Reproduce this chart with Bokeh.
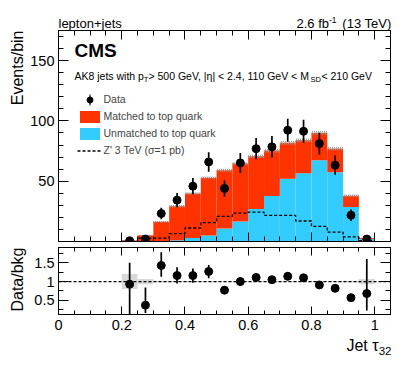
import numpy as np
from bokeh.plotting import figure
from bokeh.models import (Range1d, FixedTicker, LinearAxis, Label, Legend, LegendItem, Span)
from bokeh.layouts import column, row
from bokeh.embed import file_html
from bokeh.resources import INLINE

# ---------------- data ----------------
bin_lo = [0.20, 0.25, 0.30, 0.35, 0.40, 0.45, 0.50, 0.55, 0.60, 0.65, 0.70, 0.75, 0.80, 0.85, 0.90, 0.95]
bin_hi = [0.25, 0.30, 0.35, 0.40, 0.45, 0.50, 0.55, 0.60, 0.65, 0.70, 0.75, 0.80, 0.85, 0.90, 0.95, 1.00]
bin_mid = [0.225, 0.275, 0.325, 0.375, 0.425, 0.475, 0.525, 0.575, 0.625, 0.675, 0.725, 0.775, 0.825, 0.875, 0.925, 0.975]

unmatched = [0.0, 0.3, 0.5, 1.0, 3.0, 5.0, 10.8, 16.6, 27.0, 37.8, 52.0, 56.6, 67.4, 57.5, 28.7, 2.0]
matched = [0.8, 4.9, 15.8, 28.3, 36.8, 47.8, 48.3, 48.0, 43.7, 37.6, 29.8, 27.4, 22.6, 19.5, 9.3, 0.8]
bkg_unc = [0.3, 0.5, 0.8, 1.0, 1.1, 1.2, 1.3, 1.4, 1.4, 1.5, 1.6, 1.6, 1.7, 1.5, 1.1, 0.3]
zprime = [0.0, 2.8, 2.8, 6.6, 11.2, 15.7, 20.8, 23.5, 24.3, 21.6, 21.6, 17.0, 12.6, 7.8, 3.8, 0.8]

data = [0.6, 2.0, 23.2, 34.3, 45.9, 66.0, 44.0, 65.2, 77.0, 78.5, 92.3, 91.4, 81.2, 63.3, 21.8, 2.0]
data_err = [1.0, 1.4, 4.8, 5.9, 6.8, 8.1, 6.6, 8.1, 8.8, 8.9, 9.6, 9.6, 9.0, 8.0, 4.7, 1.4]

ratio = [0.93, 0.37, 1.43, 1.16, 1.16, 1.27, 0.77, 1.00, 1.11, 1.05, 1.14, 1.10, 0.91, 0.82, 0.57, 0.68]
ratio_lo = [0.10, 0.16, 1.13, 0.95, 0.97, 1.09, 0.68, 0.88, 0.99, 0.95, 1.05, 1.00, 0.84, 0.75, 0.48, 0.23]
ratio_hi = [1.50, 0.84, 1.78, 1.38, 1.35, 1.44, 0.84, 1.11, 1.22, 1.15, 1.24, 1.20, 0.99, 0.90, 0.66, 1.60]
ratio_band = [0.20, 0.07, 0.02, 0.01, 0.01, 0.01, 0.01, 0.01, 0.01, 0.01, 0.01, 0.01, 0.01, 0.01, 0.02, 0.07]
ratio_ref = 1.0

x_major = [0, 0.2, 0.4, 0.6, 0.8, 1]
x_major_labels = ["0", "0.2", "0.4", "0.6", "0.8", "1"]
x_minor = [0.05 * i for i in range(22)]
y_major = [50, 100, 150]
y_major_labels = ["50", "100", "150"]
y_minor = [10 * i for i in range(18)]
r_major = [0.5, 1.0, 1.5]
r_major_labels = ["0.5", "1", "1.5"]
r_minor = [0.25, 0.75, 1.25, 1.75]

FONT = "Liberation Sans"
RED = "#ff3300"
CYAN = "#33ccff"

# ---------------- geometry ----------------
SIDE_W = 27          # strip holding the vertical axis titles
FRAME_W = 333
BL, BR = 30, 9       # left / right borders of the main figures
MAIN_W = BL + FRAME_W + BR
HEAD_H = 30
FOOT_H = 26
TOTAL_H = 362
XR = Range1d(0, 1.05)
YR = Range1d(0, 175)
RR = Range1d(0.12, 1.91)


def bare(fig):
    fig.xgrid.visible = False
    fig.ygrid.visible = False
    fig.background_fill_color = "white"
    fig.border_fill_color = "white"


def style_axis(ax, ticker, maj, mnr, labels=None):
    ax.ticker = ticker
    ax.major_tick_in = maj
    ax.major_tick_out = 0
    ax.minor_tick_in = mnr
    ax.minor_tick_out = 0
    ax.axis_line_color = "black"
    ax.axis_line_width = 1
    ax.major_tick_line_color = "black"
    ax.minor_tick_line_color = "black"
    ax.major_tick_line_width = 1
    ax.minor_tick_line_width = 1
    ax.major_label_text_font = FONT
    ax.major_label_text_color = "black"
    if labels is not None:
        ax.major_label_text_font_size = "14.5px"
        ax.major_label_overrides = dict(zip(ticker.ticks, labels))
    else:
        ax.major_label_overrides = {t: "" for t in ticker.ticks}
        ax.major_label_text_font_size = "1px"
        ax.major_label_standoff = 0
        ax.axis_label_standoff = 0


def lab(fig, x, y, text, size, align="left", bold=False, x_offset=0, angle=0):
    fig.add_layout(Label(x=x, y=y, text=text, text_font=FONT, text_font_size=size,
                         text_align=align, text_baseline="middle",
                         text_font_style="bold" if bold else "normal",
                         text_color="black", x_offset=x_offset, angle=angle))


def text_strip(fw, fh, x_range, y_range, bl=0, br=0):
    f = figure(frame_width=fw, frame_height=fh, x_range=x_range, y_range=y_range,
               x_axis_type=None, y_axis_type=None, output_backend="svg",
               toolbar_location=None, title=None, min_border=0,
               min_border_left=bl, min_border_right=br,
               min_border_top=0, min_border_bottom=0)
    bare(f)
    f.outline_line_color = None
    return f


# ---------------- header (texts above the frame) ----------------
head = text_strip(FRAME_W, HEAD_H, XR, Range1d(0, HEAD_H), BL, BR)
lab(head, 0.0, 7.5, "lepton+jets", "13px")
lab(head, 1.05, 7.5, "(13 TeV)", "13px", align="right")
lab(head, 1.05, 10.9, "-1", "8.5px", align="right", x_offset=-55)
lab(head, 1.05, 7.5, "2.6 fb", "13px", align="right", x_offset=-62.5)

# ---------------- upper panel ----------------
p = figure(width=MAIN_W, height=214, x_range=XR, y_range=YR, output_backend="svg",
           toolbar_location=None, title=None, min_border_left=BL, min_border_right=BR,
           min_border_top=0, min_border_bottom=3)
bare(p)
p.outline_line_color = "black"

xt = FixedTicker(ticks=x_major, minor_ticks=x_minor)
yt = FixedTicker(ticks=y_major, minor_ticks=y_minor)
style_axis(p.xaxis[0], xt, 9, 5)
style_axis(p.yaxis[0], yt, 10, 5, y_major_labels)
p.yaxis[0].major_label_standoff = 4
top_ax = LinearAxis()
style_axis(top_ax, xt, 9, 5)
p.add_layout(top_ax, "above")
right_ax = LinearAxis()
style_axis(right_ax, yt, 10, 5)
p.add_layout(right_ax, "right")

lo = np.array(bin_lo)
hi = np.array(bin_hi)
um = np.array(unmatched)
mt = np.array(matched)
tot = um + mt
unc = np.array(bkg_unc)

r_cyan = p.quad(left=lo, right=hi, bottom=np.zeros_like(um), top=um,
                fill_color=CYAN, line_color=None)
r_red = p.quad(left=lo, right=hi, bottom=um, top=tot,
               fill_color=RED, line_color=None)
p.quad(left=lo, right=hi, bottom=tot - unc, top=tot + unc, fill_alpha=0,
       line_color=None, hatch_pattern="/", hatch_color="#999999",
       hatch_scale=4, hatch_weight=1)

edges = list(bin_lo) + [bin_hi[-1]]
zp_y = list(zprime) + [zprime[-1]]
r_zp = p.step(x=edges, y=zp_y, mode="after", line_color="black",
              line_dash="3 2", line_width=1.3)

d = np.array(data)
de = np.array(data_err)
p.segment(x0=bin_mid, x1=bin_mid, y0=d - de, y1=d + de, line_color="black", line_width=1.7)
r_data = p.scatter(x=bin_mid, y=data, size=8, marker="circle",
                   fill_color="black", line_color="black")

# legend helper for the error-bar symbol: a thin bar sitting inside the
# longest error bar of the data, so it adds nothing visible to the plot
i_leg = int(np.argmax(de))
r_bar = p.ellipse(x=[bin_mid[i_leg]], y=[data[i_leg]], width=1.7, height=12,
                  width_units="screen", height_units="screen",
                  fill_color="black", line_color=None)

legend = Legend(items=[
    LegendItem(label="Data", renderers=[r_bar, r_data]),
    LegendItem(label="Matched to top quark", renderers=[r_red]),
    LegendItem(label="Unmatched to top quark", renderers=[r_cyan]),
    LegendItem(label="Z' 3 TeV (\u03c3=1 pb)", renderers=[r_zp]),
], location=(18.5, 83.5), padding=0, margin=0, spacing=2,
    glyph_width=25, glyph_height=15, label_height=15, label_standoff=2,
    label_text_font_size="10.5px", label_text_font=FONT,
    border_line_color=None, background_fill_alpha=0)
p.add_layout(legend)

lab(p, 0.0505, 158.3, "CMS", "19px", bold=True)
lab(p, 0.0505, 137.3, "AK8 jets with p", "10.5px")
lab(p, 0.0505, 134.4, "T", "7.5px", x_offset=69.4)
lab(p, 0.0505, 137.3, " > 500 GeV, |\u03b7| < 2.4, 110 GeV < M", "10.5px", x_offset=74.0)
lab(p, 0.0505, 134.4, "SD", "7.5px", x_offset=236.0)
lab(p, 0.0505, 137.3, " < 210 GeV", "10.5px", x_offset=247.0)

# ---------------- ratio panel ----------------
q = figure(width=MAIN_W, height=92, x_range=XR, y_range=RR, output_backend="svg",
           toolbar_location=None, title=None, min_border_left=BL, min_border_right=BR,
           min_border_top=3, min_border_bottom=22)
bare(q)
q.outline_line_color = "black"

rt = FixedTicker(ticks=r_major, minor_ticks=r_minor)
style_axis(q.xaxis[0], xt, 8, 4, x_major_labels)
q.xaxis[0].major_label_standoff = 5
style_axis(q.yaxis[0], rt, 10, 5, r_major_labels)
q.yaxis[0].major_label_standoff = 4
top_ax2 = LinearAxis()
style_axis(top_ax2, xt, 8, 4)
q.add_layout(top_ax2, "above")
right_ax2 = LinearAxis()
style_axis(right_ax2, rt, 10, 5)
q.add_layout(right_ax2, "right")

rb = np.array(ratio_band)
q.quad(left=lo, right=hi, bottom=ratio_ref - rb, top=ratio_ref + rb,
       fill_color="#d9d9d9", line_color=None)
q.add_layout(Span(location=ratio_ref, dimension="width", line_color="black",
                  line_dash="3 2", line_width=1.2))
q.segment(x0=bin_mid, x1=bin_mid, y0=ratio_lo, y1=ratio_hi, line_color="black", line_width=1.7)
q.scatter(x=bin_mid, y=ratio, size=8, marker="circle", fill_color="black", line_color="black")

# ---------------- footer (x-axis title) ----------------
foot = text_strip(FRAME_W, FOOT_H, XR, Range1d(0, FOOT_H), BL, BR)
lab(foot, 1.05, 16.8, "Jet \u03c4", "16px", align="right", x_offset=-13)
lab(foot, 1.05, 11.5, "32", "11.5px", align="right")

# ---------------- side strip (y-axis titles) ----------------
side = text_strip(SIDE_W, TOTAL_H, Range1d(0, SIDE_W), Range1d(0, TOTAL_H))
lab(side, 16.5, TOTAL_H - 30, "Events/bin", "16px", align="right", angle=np.pi / 2)
lab(side, 16.5, TOTAL_H - 247, "Data/bkg", "16px", align="right", angle=np.pi / 2)

layout = row(side, column(head, p, q, foot, spacing=0), spacing=0)
open("out.html", "w").write(file_html(layout, INLINE))
